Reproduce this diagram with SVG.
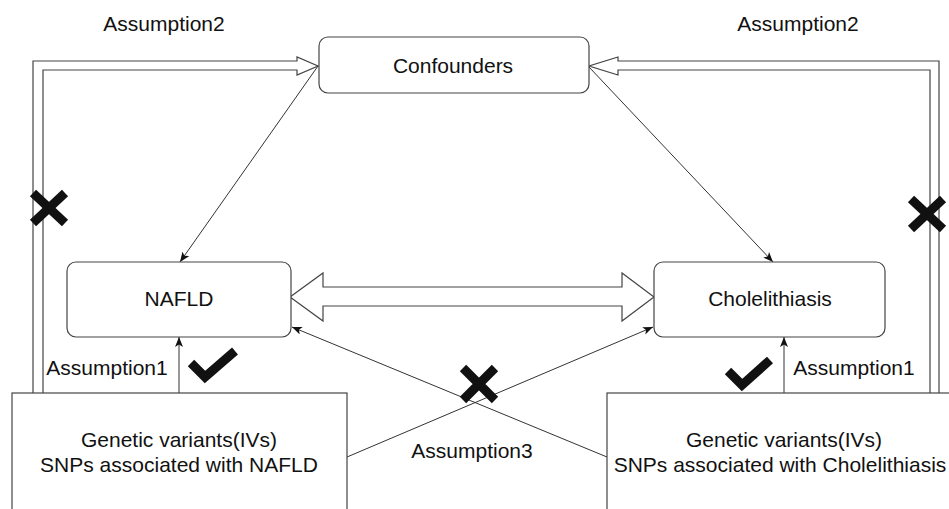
<svg xmlns="http://www.w3.org/2000/svg" width="949" height="509" viewBox="0 0 949 509">
<style>
  text { font-family: "Liberation Sans", Arial, sans-serif; font-size: 21px; fill: #111; text-anchor: middle; }
  .box { fill: #fff; stroke: #444; stroke-width: 1.2; }
  .flex { fill: #fff; stroke: #444; stroke-width: 1.2; stroke-linejoin: miter; }
  .ln { fill: none; stroke: #333; stroke-width: 1; }
  .mark { fill: none; stroke: #111; stroke-width: 9; stroke-linecap: butt; stroke-linejoin: miter; }
</style>
<defs>
  <marker id="ah" viewBox="0 0 10 8" refX="10" refY="4" markerWidth="10" markerHeight="8" markerUnits="userSpaceOnUse" orient="auto">
    <path d="M0,0 L10,4 L0,8 L2.5,4 z" fill="#111"/>
  </marker>
</defs>
<rect width="949" height="509" fill="#fff"/>

<g id="connectors">
  <!-- Assumption2 left double arrow -->
  <path class="flex" d="M33,393 L33,61 L297,61 L297,57 L318,66 L297,75 L297,70 L43,70 L43,393"/>
  <!-- Assumption2 right double arrow -->
  <path class="flex" d="M939,393 L939,61 L618,61 L618,57 L589,66 L618,75 L618,70 L930,70 L930,393"/>
  <!-- Confounders to NAFLD / Cholelithiasis -->
  <line class="ln" x1="318" y1="66" x2="180" y2="262" marker-end="url(#ah)"/>
  <line class="ln" x1="589" y1="67" x2="773" y2="262" marker-end="url(#ah)"/>
  <!-- bidirectional NAFLD <-> Cholelithiasis -->
  <path class="flex" d="M290,297 L323,273 L323,287 L622,287 L622,273 L654,297 L622,321 L622,306 L323,306 L323,321 Z"/>
  <!-- Assumption1 arrows -->
  <line class="ln" x1="179" y1="393" x2="179" y2="337" marker-end="url(#ah)"/>
  <line class="ln" x1="784" y1="393" x2="784" y2="337" marker-end="url(#ah)"/>
  <!-- Assumption3 cross arrows -->
  <line class="ln" x1="347" y1="457" x2="653" y2="327" marker-end="url(#ah)"/>
  <line class="ln" x1="607" y1="457" x2="292" y2="327" marker-end="url(#ah)"/>
</g>

<g id="confounders">
  <rect class="box" x="319" y="37" width="270" height="56" rx="9"/>
  <text x="453" y="73">Confounders</text>
</g>

<g id="nafld">
  <rect class="box" x="67" y="262" width="224" height="75" rx="9"/>
  <text x="179" y="306">NAFLD</text>
</g>

<g id="cholelithiasis">
  <rect class="box" x="654" y="262" width="231" height="75" rx="9"/>
  <text x="770" y="306">Cholelithiasis</text>
</g>

<g id="iv-nafld">
  <rect class="box" x="12" y="393" width="335" height="130"/>
  <text x="179" y="447">Genetic variants(IVs)</text>
  <text x="179" y="472">SNPs associated with NAFLD</text>
</g>

<g id="iv-cholelithiasis">
  <rect class="box" x="607" y="393" width="360" height="130"/>
  <text x="784" y="447">Genetic variants(IVs)</text>
  <text x="780" y="472">SNPs associated with Cholelithiasis</text>
</g>

<g id="labels">
  <text x="164" y="31">Assumption2</text>
  <text x="798" y="31">Assumption2</text>
  <text x="107" y="375">Assumption1</text>
  <text x="854" y="375">Assumption1</text>
  <text x="472" y="458">Assumption3</text>
</g>

<g id="marks">
  <polyline class="mark" points="191,363 205,377 235,351"/>
  <polyline class="mark" points="728,371 742,385 770,360"/>
  <path class="mark" d="M33,193 L65,223 M65,193 L33,223"/>
  <path class="mark" d="M911,199 L943,229 M943,199 L911,229"/>
  <path class="mark" d="M463,368 L495,400 M495,368 L463,400"/>
</g>
</svg>
